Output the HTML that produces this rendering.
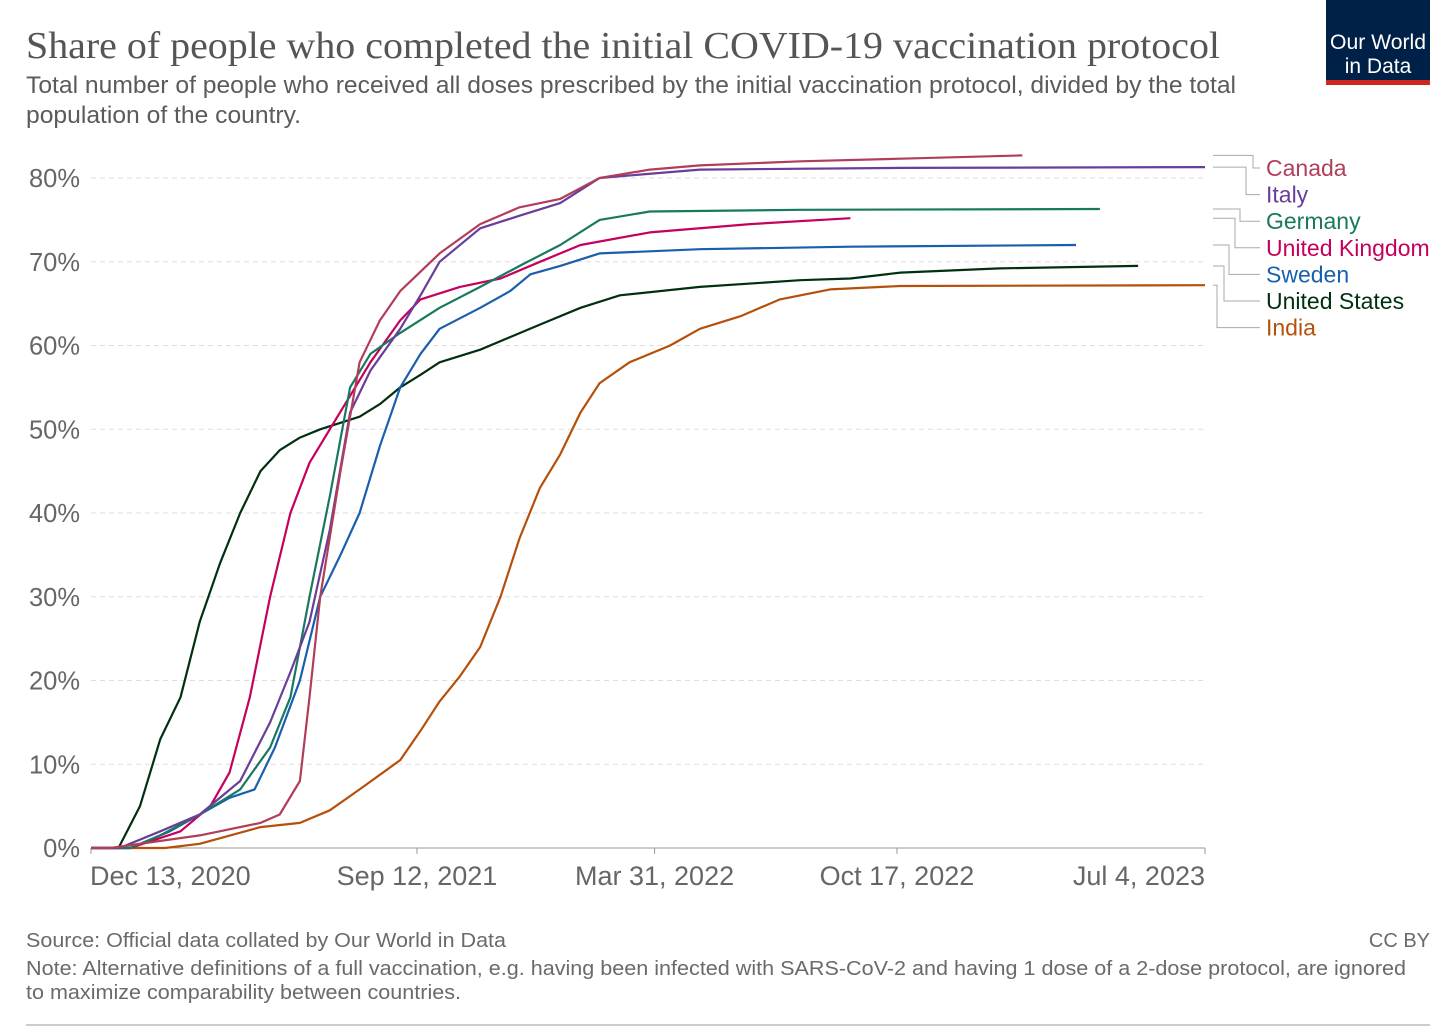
<!DOCTYPE html>
<html><head><meta charset="utf-8"><style>
body{margin:0;background:#fff;width:1456px;height:1028px;overflow:hidden;font-family:"Liberation Sans",sans-serif}
</style></head><body>
<svg width="1456" height="1028" font-family="Liberation Sans, sans-serif">
<text x="26" y="58" font-family="Liberation Serif, serif" font-size="38" fill="#555" textLength="1194" lengthAdjust="spacingAndGlyphs">Share of people who completed the initial COVID-19 vaccination protocol</text>
<text x="26" y="93" font-size="24" fill="#5b5b5b" textLength="1210" lengthAdjust="spacingAndGlyphs">Total number of people who received all doses prescribed by the initial vaccination protocol, divided by the total</text>
<text x="26" y="123" font-size="24" fill="#5b5b5b" textLength="275" lengthAdjust="spacingAndGlyphs">population of the country.</text>
<g><rect x="1326" y="0" width="104" height="80" fill="#002147"/><rect x="1326" y="80" width="104" height="5" fill="#ce261e"/>
<text x="1378" y="49" text-anchor="middle" fill="#fff" font-size="21" textLength="96" lengthAdjust="spacingAndGlyphs">Our World</text><text x="1378" y="73" text-anchor="middle" fill="#fff" font-size="21">in Data</text></g>
<g id="grid"></g><g id="lines"></g><g id="legend"></g>
<text x="26" y="947" font-size="20" fill="#6a6a6a" textLength="480" lengthAdjust="spacingAndGlyphs">Source: Official data collated by Our World in Data</text>
<text x="1430" y="947" text-anchor="end" font-size="20" fill="#6a6a6a">CC BY</text>
<text x="26" y="975" font-size="20" fill="#6a6a6a" textLength="1380" lengthAdjust="spacingAndGlyphs">Note: Alternative definitions of a full vaccination, e.g. having been infected with SARS-CoV-2 and having 1 dose of a 2-dose protocol, are ignored</text>
<text x="26" y="999" font-size="20" fill="#6a6a6a" textLength="435" lengthAdjust="spacingAndGlyphs">to maximize comparability between countries.</text>
<line x1="26" y1="1025" x2="1430" y2="1025" stroke="#999"/>
</svg>
<script>
const yTicks=[0,10,20,30,40,50,60,70,80];
const xTickDays=[0,273,472,675,933];
const xTickLabels=["Dec 13, 2020","Sep 12, 2021","Mar 31, 2022","Oct 17, 2022","Jul 4, 2023"];
const names=["Canada","Italy","Germany","United Kingdom","Sweden","United States","India"];
const colors=["#b13e59","#6a3d9a","#18795f","#c5005d","#1a5fad","#00300f","#b5500b"];
const usDays=[0,23,41,58,75,91,108,125,142,158,175,192,225,242,259,276,292,326,351,376,410,443,510,594,636,678,761,877];
const usVals=[0,0,5,13,18,27,34,40,45,47.5,49,50,51.5,53,55,56.5,58,59.5,61,62.5,64.5,66,67,67.8,68,68.7,69.2,69.5];
const caDays=[0,16,91,142,158,175,183,192,209,225,242,259,292,326,359,393,426,468,510,594,678,780];
const caVals=[0,0,1.5,3,4,8,18,30,45,58,63,66.5,71,74.5,76.5,77.5,80,81,81.5,82,82.3,82.7];
const itDays=[0,24,58,91,125,150,167,183,200,217,234,259,276,292,326,359,393,426,510,678,933];
const itVals=[0,0,2,4,8,15,21,27,38,52,57,62,66,70,74,75.5,77,80,81,81.2,81.3];
const deDays=[0,33,58,91,125,150,167,183,200,217,234,259,292,326,359,393,426,468,594,845];
const deVals=[0,0,1.5,4,7,12,18,30,42,55,59,61.5,64.5,67,69.5,72,75,76,76.2,76.3];
const ukDays=[0,33,75,100,116,133,150,167,183,200,217,234,259,276,309,343,376,410,468,552,636];
const ukVals=[0,0,2,5,9,18,30,40,46,50,54,58,63,65.5,67,68,70,72,73.5,74.5,75.2];
const seDays=[0,33,66,91,116,137,154,175,192,209,225,242,259,276,292,326,351,368,393,426,510,636,825];
const seVals=[0,0,2,4,6,7,12,20,30,35,40,48,55,59,62,64.5,66.5,68.5,69.5,71,71.5,71.8,72];
const inDays=[0,62,91,142,175,200,225,259,276,292,309,326,343,359,376,393,410,426,451,485,510,544,577,619,678,933];
const inVals=[0,0,0.5,2.5,3,4.5,7,10.5,14,17.5,20.5,24,30,37,43,47,52,55.5,58,60,62,63.5,65.5,66.7,67.1,67.2];
const seriesDays=[caDays,itDays,deDays,ukDays,seDays,usDays,inDays];
const seriesVals=[caVals,itVals,deVals,ukVals,seVals,usVals,inVals];
const X=d=>91+d*(1114/933), Y=v=>848-v*8.375;
const NS="http://www.w3.org/2000/svg";
function mk(t,a,p){const e=document.createElementNS(NS,t);for(const k in a)e.setAttribute(k,a[k]);p.appendChild(e);return e;}
const grid=document.getElementById('grid');
yTicks.forEach(v=>{
 if(v>0){const l=mk('line',{x1:91,x2:1205,y1:Y(v),y2:Y(v),stroke:'#ddd','stroke-dasharray':'5,4'},grid);
 
 }
 const t=mk('text',{x:80,y:Y(v)+9,'text-anchor':'end','font-size':25.5,fill:'#666'},grid);t.textContent=v+'%';
 
 
});
const ax=mk('line',{x1:91,x2:1205,y1:848,y2:848,stroke:'#999'},grid);


xTickDays.forEach((d,i)=>{
 mk('line',{x1:X(d),x2:X(d),y1:848,y2:854,stroke:'#999'},grid);
 const anchor=i==0?'start':(i==xTickDays.length-1?'end':'middle');
 const t=mk('text',{x:i==0?X(d)-1:X(d),y:885,'text-anchor':anchor,'font-size':27,fill:'#666'},grid);t.textContent=xTickLabels[i];
 
 
});
const lines=document.getElementById('lines'),leg=document.getElementById('legend');
const order=[6,5,4,3,2,1,0];
order.forEach(i=>{
 const pts=seriesDays[i].map((d,j)=>X(d).toFixed(1)+','+Y(seriesVals[i][j]).toFixed(1)).join(' ');
 const p=mk('polyline',{points:pts,fill:'none',stroke:colors[i],'stroke-width':2.2,'stroke-linejoin':'round'},lines);
 
 
});
const elbow=[1253,1246,1240,1235,1229,1224,1217];
names.forEach((n,i)=>{
 const vals=seriesVals[i];const sy=Y(vals[vals.length-1]);
 const ly=168+i*26.6;
 mk('polyline',{points:`1213,${sy} ${elbow[i]},${sy} ${elbow[i]},${ly} 1260,${ly}`,fill:'none',stroke:'#aaa','stroke-width':1},leg);
 const t=mk('text',{x:1266,y:ly+8,'font-size':23,fill:colors[i]},leg);t.textContent=n;
 
 
});
</script>
</body></html>
